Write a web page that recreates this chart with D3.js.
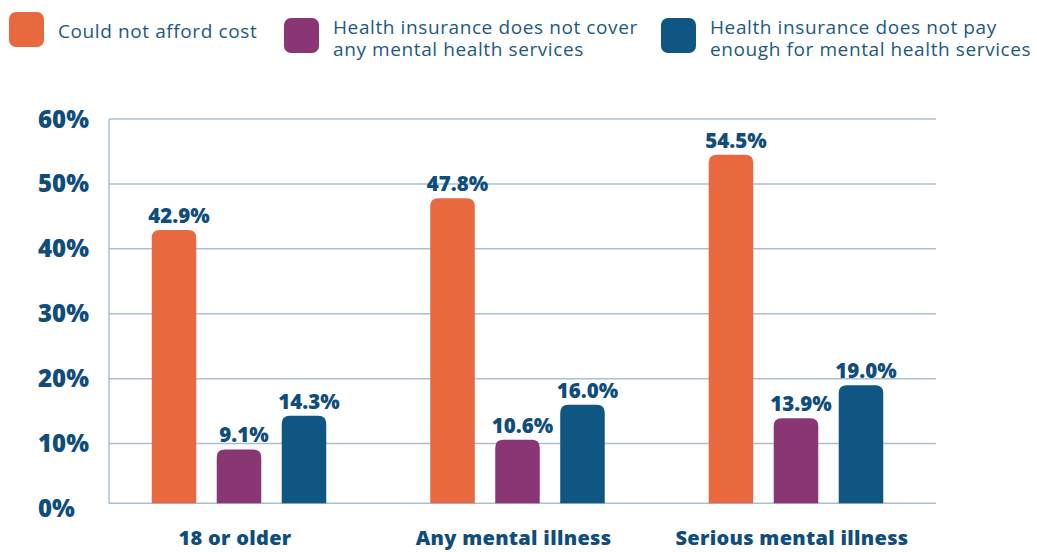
<!DOCTYPE html>
<html>
<head>
<meta charset="utf-8">
<script src="https://cdn.jsdelivr.net/npm/d3@7"></script>
<style>
  html, body { margin: 0; padding: 0; background: #fff; }
  svg { display: block; font-family: "Open Sans", Lato, sans-serif; }
</style>
</head>
<body>
<svg id="chart" width="1037" height="552"></svg>
<script>
// chart data
const groups = ['18 or older', 'Any mental illness', 'Serious mental illness'];
const seriesNames = [
  'Could not afford cost',
  'Health insurance does not cover any mental health services',
  'Health insurance does not pay enough for mental health services'
];
const legendLines = [
  ['Could not afford cost'],
  ['Health insurance does not cover', 'any mental health services'],
  ['Health insurance does not pay', 'enough for mental health services']
];
const couldNotAfford = [42.9, 47.8, 54.5];
const doesNotCover = [9.1, 10.6, 13.9];
const doesNotPayEnough = [14.3, 16.0, 19.0];
const yTicks = [0, 10, 20, 30, 40, 50, 60];

const colors = ['#e8693f', '#8a3574', '#0f5782'];
const textColor = '#0f4d7c';
const gridColor = '#a9bfd3';
const boldFont = '"Open Sans", Lato, sans-serif';

const svg = d3.select('#chart');
const margin = { top: 119, left: 109, right: 936, bottom: 508.5 };

const values = [couldNotAfford, doesNotCover, doesNotPayEnough];
const rows = groups.map((g, i) => ({
  group: g,
  bars: seriesNames.map((s, j) => ({ series: s, idx: j, value: values[j][i] }))
}));

// group centers spread across the plot
const x0 = d3.scalePoint().domain(groups).range([239, 796]);
const x1 = d3.scaleBand().domain(seriesNames).range([0, 174.5]).paddingInner(0.315);
const y = d3.scaleLinear().domain([0, 60]).range([margin.bottom, margin.top]);
const baseline = y(0.8);

// gridlines
svg.append('g')
  .selectAll('line')
  .data(yTicks.filter(t => t > 0))
  .enter()
  .append('line')
  .attr('x1', margin.left)
  .attr('x2', margin.right)
  .attr('y1', d => y(d))
  .attr('y2', d => y(d))
  .attr('stroke', gridColor)
  .attr('stroke-width', 1.5);

// baseline + vertical axis line
svg.append('line')
  .attr('x1', margin.left).attr('x2', margin.right)
  .attr('y1', baseline).attr('y2', baseline)
  .attr('stroke', gridColor).attr('stroke-width', 1.5);
svg.append('line')
  .attr('x1', margin.left).attr('x2', margin.left)
  .attr('y1', y(60)).attr('y2', baseline)
  .attr('stroke', gridColor).attr('stroke-width', 1.5);

// y tick labels
svg.append('g')
  .selectAll('text')
  .data(yTicks)
  .enter()
  .append('text')
  .attr('x', 38)
  .attr('y', d => y(d) + 8.5)
  .attr('fill', textColor)
  .attr('font-family', boldFont)
  .attr('font-size', 24)
  .attr('font-weight', 800)
  .text(d => d + '%');

// bar with rounded top corners
function topRounded(x, yTop, w, yBot, r) {
  r = Math.min(r, (yBot - yTop));
  return `M${x},${yBot}V${yTop + r}Q${x},${yTop} ${x + r},${yTop}` +
    `H${x + w - r}Q${x + w},${yTop} ${x + w},${yTop + r}V${yBot}Z`;
}

const g = svg.append('g')
  .selectAll('g')
  .data(rows)
  .enter()
  .append('g')
  .attr('transform', d => `translate(${x0(d.group) - 174.5 / 2},0)`);

g.selectAll('path')
  .data(d => d.bars)
  .enter()
  .append('path')
  .attr('d', d => topRounded(x1(d.series), y(d.value), x1.bandwidth(), baseline, 8))
  .attr('fill', d => colors[d.idx]);

g.selectAll('text.val')
  .data(d => d.bars)
  .enter()
  .append('text')
  .attr('class', 'val')
  .attr('x', d => x1(d.series) + x1.bandwidth() / 2 + 5)
  .attr('y', d => y(d.value) - 7)
  .attr('text-anchor', 'middle')
  .attr('fill', textColor)
  .attr('font-family', boldFont)
  .attr('font-size', 20.5)
  .attr('font-weight', 800)
  .text(d => d.value.toFixed(1) + '%');

// category labels
svg.append('g')
  .selectAll('text')
  .data(groups)
  .enter()
  .append('text')
  .attr('x', d => x0(d) - 4)
  .attr('y', 545)
  .attr('text-anchor', 'middle')
  .attr('fill', textColor)
  .attr('font-family', boldFont)
  .attr('font-size', 20)
  .attr('font-weight', 800)
  .attr('letter-spacing', 0.3)
  .text(d => d);

// legend
const legendX = [9, 284, 661];
const legendY = [12, 18, 18];
const leg = svg.append('g')
  .selectAll('g')
  .data(legendLines)
  .enter()
  .append('g')
  .attr('transform', (d, i) => `translate(${legendX[i]},${legendY[i]})`);

leg.append('rect')
  .attr('width', 35)
  .attr('height', 35)
  .attr('rx', 7)
  .attr('fill', (d, i) => colors[i]);

leg.append('text')
  .attr('fill', '#1b5986')
  .attr('font-size', 19)
  .attr('letter-spacing', 0.6)
  .selectAll('tspan')
  .data(d => d)
  .enter()
  .append('tspan')
  .attr('x', 49)
  .attr('y', (d, i, nodes) => nodes.length === 1 ? 25.5 : 15.5 + i * 22)
  .text(d => d);
</script>
</body>
</html>
